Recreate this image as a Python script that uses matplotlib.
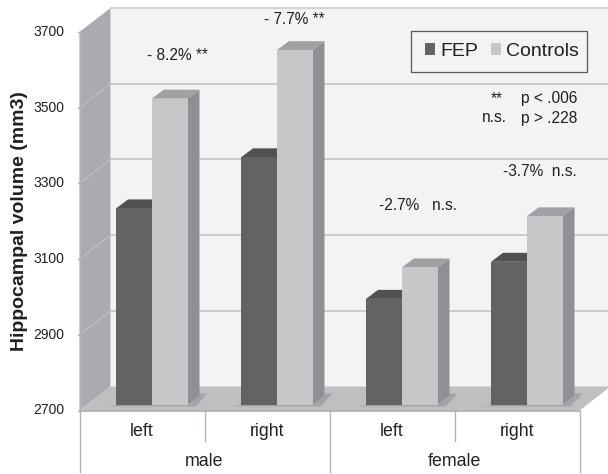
import matplotlib
matplotlib.use('Agg')
import matplotlib.pyplot as plt
from matplotlib.patches import Polygon, Rectangle

plt.rcParams['font.family'] = ['Liberation Sans', 'DejaVu Sans']

# chart data
sides = ['left', 'right', 'left', 'right']
groups = ['male', 'female']
fep = [3218, 3353, 2979, 3077]
controls = [3508, 3636, 3062, 3197]
y_ticks = [2700, 2900, 3100, 3300, 3500, 3700]

# pixel layout of the front plane
W, H = 608, 474
X0, CAT_W = 79.5, 125.0
Y0, PX_PER_UNIT = 410.5, 0.3785

# 3d offsets in pixels
WALL_DX, WALL_DY = 31, 24
BAR_DX, BAR_DY = 12, 9
BASE_UP = 6

# colours
WALL = '#f2f3f3'
SIDE_WALL = '#a9abae'
FLOOR = '#bdbfc1'
GRID = '#c6c8ca'
AXIS = '#b1b3b6'
SHADOW = '#a2a4a7'
TEXT = '#231f20'
FEP_FRONT, FEP_TOP = '#626365', '#505153'
CTRL_FRONT, CTRL_SIDE, CTRL_TOP = '#c6c7c9', '#8e9093', '#9fa1a4'


def dx(px):
    return px / CAT_W


def dy(px):
    return px / PX_PER_UNIT


def xp(px):
    return (px - X0) / CAT_W


def yp(px):
    return 2700 + (Y0 - px) / PX_PER_UNIT


fig = plt.figure(figsize=(W / 100, H / 100), dpi=100)
ax = fig.add_axes([0, 0, 1, 1])
ax.set_xlim(xp(0), xp(W))
ax.set_ylim(yp(H), yp(0))
ax.axis('off')

n = len(sides)
top = y_ticks[-1]
bottom = y_ticks[0]

# back wall, side wall, floor
ax.add_patch(Polygon([(dx(WALL_DX), bottom + dy(WALL_DY)), (n + dx(WALL_DX), bottom + dy(WALL_DY)),
                      (n + dx(WALL_DX), top + dy(WALL_DY)), (dx(WALL_DX), top + dy(WALL_DY))],
                     fc=WALL, ec='none', zorder=1))
ax.plot([dx(WALL_DX), n + dx(WALL_DX)], [top + dy(WALL_DY)] * 2, color='#d3d4d6', lw=1.6, zorder=2)
ax.add_patch(Polygon([(0, bottom), (dx(WALL_DX), bottom + dy(WALL_DY)),
                      (dx(WALL_DX), top + dy(WALL_DY)), (0, top)],
                     fc=SIDE_WALL, ec='none', zorder=1))
ax.add_patch(Polygon([(0, bottom), (n, bottom), (n + dx(WALL_DX), bottom + dy(WALL_DY)),
                      (dx(WALL_DX), bottom + dy(WALL_DY))],
                     fc=FLOOR, ec='none', zorder=2))

# gridlines on both walls
for t in y_ticks[1:-1]:
    ax.plot([dx(WALL_DX), n + dx(WALL_DX)], [t + dy(WALL_DY)] * 2, color=GRID, lw=1.3, zorder=2)
    ax.plot([0, dx(WALL_DX)], [t, t + dy(WALL_DY)], color='#bcbec0', lw=1.0, zorder=2)

# axis lines and ticks
ax.plot([0, n], [bottom, bottom], color=AXIS, lw=1.3, zorder=3)
ax.plot([0, 0], [bottom, top], color=AXIS, lw=1.0, zorder=3)
for t in y_ticks:
    ax.plot([-dx(1.5), 0], [t, t], color=AXIS, lw=1.0, zorder=3)
    ax.text(xp(64), t, str(t), ha='right', va='center', fontsize=10, color=TEXT)

for i in range(n + 1):
    low = yp(441) if i % 2 else yp(472)
    ax.plot([i, i], [bottom, low], color=AXIS, lw=1.0, zorder=3, clip_on=False)

# bars
bar_w = 0.286
x_fep = [i + 0.292 for i in range(n)]
x_ctrl = [i + 0.578 for i in range(n)]
base = bottom + dy(BASE_UP)
d_x, d_y = dx(BAR_DX), dy(BAR_DY)

for i in range(n):
    fep_top = base + fep[i] - bottom
    ctrl_top = base + controls[i] - bottom
    # shadow on the floor
    ax.add_patch(Polygon([(x_fep[i] - dx(9), base - dy(2)), (x_ctrl[i] + bar_w + dx(8), base - dy(2)),
                          (x_ctrl[i] + bar_w + dx(20), base + dy(11)), (x_ctrl[i] + bar_w + dx(8), base + dy(11))],
                         fc=SHADOW, ec='none', zorder=3))
    # FEP top, controls top and side
    ax.add_patch(Polygon([(x_fep[i], fep_top), (x_fep[i] + bar_w, fep_top),
                          (x_fep[i] + bar_w + d_x, fep_top + d_y), (x_fep[i] + d_x, fep_top + d_y)],
                         fc=FEP_TOP, ec='none', zorder=4))
    ax.add_patch(Polygon([(x_ctrl[i], ctrl_top), (x_ctrl[i] + bar_w, ctrl_top),
                          (x_ctrl[i] + bar_w + d_x, ctrl_top + d_y), (x_ctrl[i] + d_x, ctrl_top + d_y)],
                         fc=CTRL_TOP, ec='none', zorder=5))
    ax.add_patch(Polygon([(x_ctrl[i] + bar_w, base), (x_ctrl[i] + bar_w + d_x, base + d_y),
                          (x_ctrl[i] + bar_w + d_x, ctrl_top + d_y), (x_ctrl[i] + bar_w, ctrl_top)],
                         fc=CTRL_SIDE, ec='none', zorder=5))

bars_fep = ax.bar(x_fep, [v - bottom for v in fep], bar_w, bottom=base, align='edge',
                  color=FEP_FRONT, zorder=6, label='FEP')
bars_ctrl = ax.bar(x_ctrl, [v - bottom for v in controls], bar_w, bottom=base, align='edge',
                   color=CTRL_FRONT, zorder=7, label='Controls')

# category labels
for i, s in enumerate(sides):
    ax.text(i + 0.5, yp(431), s, ha='center', va='center', fontsize=12.8, color=TEXT)
for i, g in enumerate(groups):
    ax.text(2 * i + 1, yp(461), g, ha='center', va='center', fontsize=12.8, color=TEXT)

ax.text(xp(19), yp(221), 'Hippocampal volume (mm3)', rotation=90, ha='center', va='center',
        fontsize=14, fontweight='bold', color=TEXT)

# annotations
notes = [(177, 55, '- 8.2% **', 'center'), (294, 20, '- 7.7% **', 'center'),
         (491, 99, '**', 'left'), (521, 99, 'p < .006', 'left'),
         (482, 118, 'n.s.', 'left'), (521, 118, 'p > .228', 'left'),
         (539.5, 171, '-3.7%  n.s.', 'center'), (417.5, 205, '-2.7%   n.s.', 'center')]
for px, py, txt, ha in notes:
    ax.text(xp(px), yp(py), txt, ha=ha, va='center', fontsize=11.2, color=TEXT, zorder=8)

# legend: frame drawn apart since the padding is not even left and right
ax.add_patch(Rectangle((xp(411), yp(72)), dx(176), dy(41), fc=WALL, ec='#58595b', lw=0.9, zorder=8))
leg = ax.legend(handles=[bars_fep, bars_ctrl], ncol=2, loc='center',
                bbox_to_anchor=(502 / W, 1 - 51.5 / H), bbox_transform=fig.transFigure,
                fontsize=14, frameon=False,
                handlelength=0.52, handleheight=0.52, handletextpad=0.26, columnspacing=0.67,
                borderpad=0, borderaxespad=0)
leg.set_zorder(9)
for t in leg.get_texts():
    t.set_color(TEXT)

fig.savefig('out.png', dpi=100)
